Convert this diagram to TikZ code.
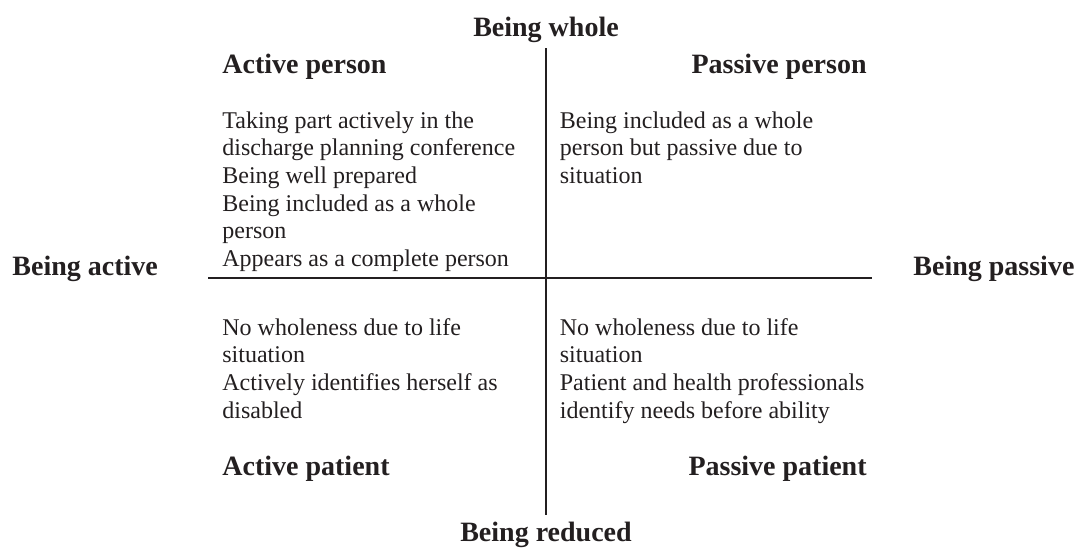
\documentclass[tikz,border=0pt]{standalone}
\usepackage{fontspec}
\setmainfont{Liberation Serif}
\usepackage{xcolor}
\usepackage{tikz}
\usetikzlibrary{positioning}
\definecolor{inkdark}{HTML}{231F20}
\newcommand{\quadlines}[1]{\begin{tabular}[t]{@{}l@{}}#1\end{tabular}}

\begin{document}
\begin{tikzpicture}[
    x=0.5pt, y=-0.5pt,
    axislabel/.style={font=\fontsize{14}{16}\selectfont\bfseries, text=inkdark, inner sep=0pt},
    quadtitle/.style={font=\fontsize{14}{16}\selectfont\bfseries, text=inkdark, inner sep=0pt},
    note/.style={font=\fontsize{12}{13.85}\selectfont, text=inkdark, inner sep=0pt, anchor=base west},
    axis/.style={line width=1pt, color=inkdark}
]
\useasboundingbox (0,0) rectangle (1077,547);

% Axis end points
\coordinate (top) at (545.5,48);
\coordinate (bottom) at (545.5,515);
\coordinate (left) at (208,278);
\coordinate (right) at (872,278);

% Axes
\draw[axis] (top) -- (bottom);
\draw[axis] (left) -- (right);

% Axis labels
\node[axislabel, anchor=base] (whole) at (546,36) {Being whole};
\node[axislabel, anchor=base] (reduced) at (546,541) {Being reduced};
\node[axislabel, anchor=base west] (active) at (12,275) {Being active};
\node[axislabel, anchor=base west] (passive) at (913,275) {Being passive};

% Quadrant titles
\node[quadtitle, anchor=base west] (actperson) at (222,73) {Active person};
\node[quadtitle, anchor=base east] (passperson) at (867,73) {Passive person};
\node[quadtitle, anchor=base west] (actpatient) at (222,475) {Active patient};
\node[quadtitle, anchor=base east] (passpatient) at (867,475) {Passive patient};

% Quadrant contents
\node[note] (tlnote) at (222,128) {\quadlines{Taking part actively in the\\
    discharge planning conference\\ Being well prepared\\
    Being included as a whole\\ person\\ Appears as a complete person}};
\node[note] (trnote) at (559.5,128) {\quadlines{Being included as a whole\\
    person but passive due to\\ situation}};
\node[note] (blnote) at (222,335) {\quadlines{No wholeness due to life\\
    situation\\ Actively identifies herself as\\ disabled}};
\node[note] (brnote) at (559.5,335) {\quadlines{No wholeness due to life\\
    situation\\ Patient and health professionals\\ identify needs before ability}};

\end{tikzpicture}
\end{document}
